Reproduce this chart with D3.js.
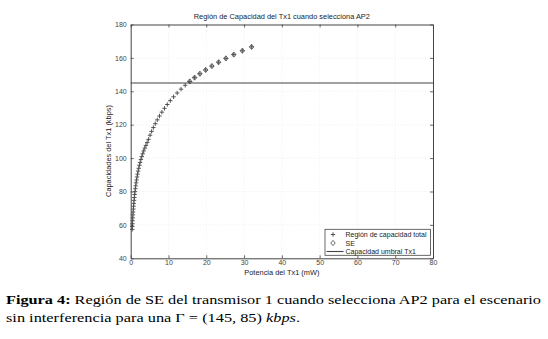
<!DOCTYPE html>
<html><head><meta charset="utf-8">
<script src="https://cdn.jsdelivr.net/npm/d3@7"></script>
<style>body{margin:0;background:#fff}svg{display:block}</style>
</head><body>
<script>
// Power of Tx1 (mW) for each point of the total capacity region
const potencia = [32.0,29.55,27.28,25.19,23.26,21.48,19.84,18.31,16.91,15.62,14.42,13.32,12.30,11.35,10.48,9.68,8.94,8.25,7.62,7.04,6.50,6.00,5.54,5.12,4.72,4.36,4.03,3.72,3.43,3.17,2.93,2.70,2.50,2.31,2.13,1.97,1.82,1.68,1.55,1.43,1.32,1.22,1.13,1.04,0.96,0.89,0.82,0.76,0.70,0.64,0.59,0.55,0.51,0.47,0.43,0.40];
// Capacity of Tx1 (kbps)
const capacidad = [166.6,164.3,162.0,159.7,157.4,155.1,152.8,150.5,148.2,145.9,143.6,141.3,139.0,136.7,134.4,132.1,129.8,127.5,125.2,122.9,120.6,118.3,116.0,113.7,111.2,109.3,107.6,106.0,104.3,102.6,100.9,99.2,97.4,95.7,93.9,92.2,90.4,88.7,86.9,85.2,83.4,81.7,79.9,78.2,76.4,74.7,72.9,71.2,69.5,67.7,66.0,64.2,62.5,60.7,59.0,57.3];
const umbral = 145;
const xTicks = [0,10,20,30,40,50,60,70,80];
const yTicks = [40,60,80,100,120,140,160,180];
const legendLabels = ["Región de capacidad total","SE","Capacidad umbral Tx1"];

const W=548,H=339;
const svg=d3.select("body").append("svg").attr("width",W).attr("height",H);
const x=d3.scaleLinear().domain([0,80]).range([130.7,433]);
const y=d3.scaleLinear().domain([40,180]).range([258.3,24.5]);
const col="#444", font="'Liberation Sans', Arial, sans-serif";

// grid
svg.append("g").selectAll("line").data(xTicks.slice(1,-1)).join("line")
  .attr("x1",d=>x(d)).attr("x2",d=>x(d)).attr("y1",y(40)).attr("y2",y(180))
  .attr("stroke","#e4e4e4").attr("stroke-width",0.6).attr("stroke-dasharray","1,2");
svg.append("g").selectAll("line").data(yTicks.slice(1,-1)).join("line")
  .attr("y1",d=>y(d)).attr("y2",d=>y(d)).attr("x1",x(0)).attr("x2",x(80))
  .attr("stroke","#e4e4e4").attr("stroke-width",0.6).attr("stroke-dasharray","1,2");

// axes
svg.append("g").attr("transform",`translate(0,${y(40)})`)
  .call(d3.axisBottom(x).tickValues(xTicks).tickSizeInner(-3).tickSizeOuter(0).tickPadding(2));
svg.append("g").attr("transform",`translate(${x(0)},0)`)
  .call(d3.axisLeft(y).tickValues(yTicks).tickSizeInner(-3).tickSizeOuter(0).tickPadding(4));
svg.append("g").attr("transform",`translate(0,${y(180)})`)
  .call(d3.axisTop(x).tickValues(xTicks).tickSizeInner(-3).tickSizeOuter(0).tickFormat(""));
svg.append("g").attr("transform",`translate(${x(80)},0)`)
  .call(d3.axisRight(y).tickValues(yTicks).tickSizeInner(-3).tickSizeOuter(0).tickFormat(""));
svg.selectAll(".domain").attr("stroke",col).attr("stroke-width",1);
svg.selectAll(".tick line").attr("stroke",col).attr("stroke-width",0.8);
svg.selectAll(".tick text").attr("fill",col).style("font-family",font).style("font-size","7px");

// threshold line
svg.append("line").attr("x1",x(0)).attr("x2",x(80)).attr("y1",y(umbral)).attr("y2",y(umbral))
  .attr("stroke",col).attr("stroke-width",1.1);

// markers
function drawPlus(g,cx,cy){
  g.append("path").attr("d",`M${cx-2.2},${cy}H${cx+2.2}M${cx},${cy-2.2}V${cy+2.2}`)
   .attr("stroke",col).attr("stroke-width",0.9).attr("fill","none");
}
function drawDiamond(g,cx,cy){
  g.append("path").attr("d",`M${cx},${cy-2.6}L${cx+2.2},${cy}L${cx},${cy+2.6}L${cx-2.2},${cy}Z`)
   .attr("stroke",col).attr("stroke-width",0.8).attr("fill","none");
}
const pts=svg.append("g");
potencia.forEach((p,i)=>{
  drawPlus(pts,x(p),y(capacidad[i]));
  if(capacidad[i]>=umbral) drawDiamond(pts,x(p),y(capacidad[i]));
});

// title & labels
svg.append("text").attr("x",(x(0)+x(80))/2).attr("y",19).attr("text-anchor","middle")
  .attr("fill","#222").style("font-family",font).style("font-size","7.4px")
  .text("Región de Capacidad del Tx1 cuando selecciona AP2");
svg.append("text").attr("x",(x(0)+x(80))/2).attr("y",275).attr("text-anchor","middle")
  .attr("fill","#222").style("font-family",font).style("font-size","7.4px")
  .text("Potencia del Tx1 (mW)");
svg.append("text").attr("transform","translate(111,151) rotate(-90)").attr("text-anchor","middle")
  .attr("fill","#222").style("font-family",font).style("font-size","7.4px")
  .text("Capacidades del  Tx1 (kbps)");

// legend
const lg=svg.append("g");
lg.append("rect").attr("x",325).attr("y",229.3).attr("width",105.5).attr("height",26)
  .attr("fill","#fff").attr("stroke",col).attr("stroke-width",0.8);
const ly=[234.5,243,251.5];
drawPlus(lg,333,ly[0]);
drawDiamond(lg,333,ly[1]);
lg.append("line").attr("x1",326.5).attr("x2",343.5).attr("y1",ly[2]).attr("y2",ly[2]).attr("stroke",col).attr("stroke-width",1.1);
legendLabels.forEach((t,i)=>lg.append("text").attr("x",345.5).attr("y",ly[i]+2.5)
  .attr("fill","#222").style("font-family",font).style("font-size","7px").text(t));

// caption
const cap=svg.append("g").style("font-family","'Liberation Serif','Times New Roman',serif").style("font-size","13.5px").attr("fill","#000");
const l1=cap.append("text").attr("x",6).attr("y",304).attr("textLength",535).attr("lengthAdjust","spacingAndGlyphs");
l1.append("tspan").style("font-weight","bold").text("Figura 4:");
l1.append("tspan").text(" Región de SE del transmisor 1 cuando selecciona AP2 para el escenario");
const l2=cap.append("text").attr("x",6).attr("y",322).attr("textLength",294).attr("lengthAdjust","spacingAndGlyphs");
l2.append("tspan").text("sin interferencia para una Γ = (145, 85) ");
l2.append("tspan").style("font-style","italic").text("kbps");
l2.append("tspan").text(".");
</script>
</body></html>
